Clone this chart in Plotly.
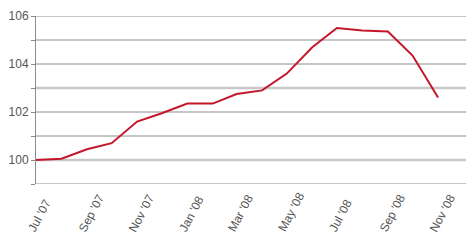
import plotly.graph_objects as go
import pandas as pd

months = pd.date_range("2007-07-01", periods=17, freq="MS")
index_values = [100.0, 100.05, 100.45, 100.7, 101.6, 101.95, 102.35, 102.35,
                102.75, 102.9, 103.6, 104.7, 105.5, 105.4, 105.35, 104.35, 102.6]
tick_months = pd.date_range("2007-07-01", "2008-11-01", freq="2MS")
tick_labels = [d.strftime("%b '%y") for d in tick_months]
y_ticks = [99, 100, 101, 102, 103, 104, 105, 106]
y_labels = ["", "100", "", "102", "", "104", "", "106"]
highlight_levels = [100, 103]

fig = go.Figure()

for lvl in y_ticks:
    hl = lvl in highlight_levels
    fig.add_shape(type="line", xref="paper", x0=0, x1=1, yref="y", y0=lvl, y1=lvl,
                  line=dict(color="#c8c8c8" if hl else "#8c8c8c", width=2.5 if hl else 1),
                  layer="below")

fig.add_trace(go.Scatter(x=months, y=index_values, mode="lines",
                         line=dict(color="#c4162a", width=2), hoverinfo="skip"))

for m, lab in zip(tick_months, tick_labels):
    fig.add_annotation(x=m, xref="x", y=0, yref="paper", text=lab, showarrow=False,
                       textangle=-62, xanchor="left", yanchor="bottom",
                       xshift=-14, yshift=-53,
                       font=dict(family="Liberation Sans, Arial, sans-serif", size=12,
                                 color="#555555"))

fig.update_layout(
    width=475, height=250,
    margin=dict(l=36, r=9, t=16, b=66),
    paper_bgcolor="white", plot_bgcolor="white",
    showlegend=False,
    font=dict(family="Liberation Sans, Arial, sans-serif", size=12, color="#555555"),
)
fig.update_xaxes(
    range=[pd.Timestamp("2007-07-01"), pd.Timestamp("2008-12-05")],
    showticklabels=False,
    showgrid=False, zeroline=False, showline=False, ticks="",
)
fig.update_yaxes(
    range=[99, 106], tickvals=y_ticks, ticktext=y_labels,
    showgrid=False,
    zeroline=False, showline=True, linecolor="#8c8c8c", linewidth=1,
    ticks="outside", ticklen=4, tickcolor="#8c8c8c",
    tickfont=dict(size=12, color="#555555"),
)
fig.write_html("out.html")
